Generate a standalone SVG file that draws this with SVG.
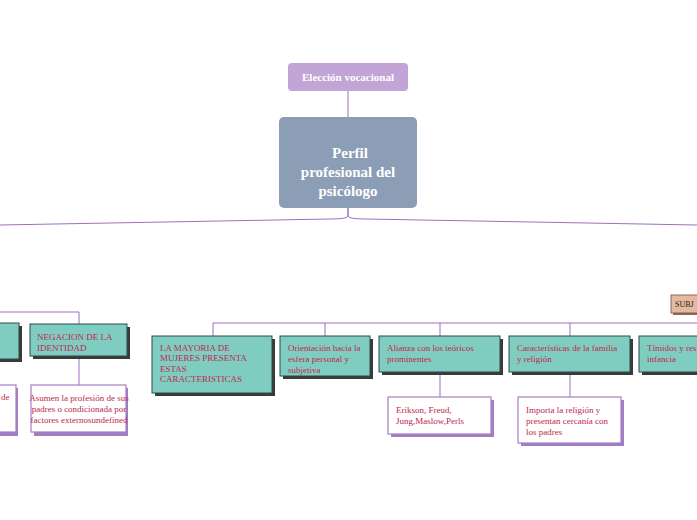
<svg xmlns="http://www.w3.org/2000/svg" width="697" height="520" viewBox="0 0 697 520">
<style>
.t{fill:#7fcdc0;stroke:#2f4a46;stroke-width:1}
.sh{fill:#3a3a3a}
.w{fill:#fff;stroke:#a47fc4;stroke-width:1.2}
.ws{fill:#a27ec0}
.lbl{font-family:"Liberation Serif",serif;font-size:9px;fill:#c0264d}
.c{fill:none;stroke:#9c6fbf;stroke-width:1}
</style>
<rect width="697" height="520" fill="#fff"/>
<g id="connectors">
<path class="c" d="M348 91 V117"/>
<path class="c" d="M348 208 V216 Q348 219 330 219 L0 225"/>
<path class="c" d="M348 208 V216 Q348 219 366 219 L697 225"/>
<path class="c" d="M0 312 H79 V324"/>
<path class="c" d="M213 336 V323 H697"/>
<path class="c" d="M325 323 V336 M440 323 V336 M570 323 V336"/>
<path class="c" d="M79 356 V385 M440 372 V397 M570 372 V397"/>
</g>
<g id="eleccion"><rect x="288" y="63" width="120" height="28" rx="4" fill="#c2a5d6"/><text x="348" y="81" text-anchor="middle" font-family="Liberation Serif,serif" font-size="11" font-weight="bold" fill="#fff">Elección vocacional</text></g>
<g id="perfil"><rect x="279" y="117" width="138" height="91" rx="5" fill="#8c9db6"/><text text-anchor="middle" font-family="Liberation Serif,serif" font-size="15" font-weight="bold" fill="#fff"><tspan x="350" y="158">Perfil</tspan><tspan x="348" y="177">profesional del</tspan><tspan x="348" y="196">psicólogo</tspan></text></g>
<g id="left"><rect class="sh" x="-5" y="326" width="27" height="36"/><rect class="t" x="-5" y="323" width="24" height="36"/></g>
<g id="leftw"><rect class="ws" x="-5" y="388" width="23" height="48"/><rect class="w" x="-5" y="385" width="21" height="47"/><text x="1" y="400" class="lbl" font-size="7">de</text></g>
<g id="negacion"><rect class="sh" x="33" y="327" width="97" height="32"/><rect class="t" x="30" y="324" width="97" height="32"/><text class="lbl"><tspan x="37" y="340">NEGACION DE LA</tspan><tspan x="37" y="351">IDENTIDAD</tspan></text></g>
<g id="asumen"><rect class="ws" x="34" y="388" width="94" height="48"/><rect class="w" x="31" y="385" width="95" height="47"/><text class="lbl" font-size="7" text-anchor="middle"><tspan x="79" y="401">Asumen la profesión de sus</tspan><tspan x="79" y="412">padres o condicionada por</tspan><tspan x="79" y="423">factores externosundefined</tspan></text></g>
<g id="mayoria"><rect class="sh" x="155" y="339" width="120" height="57"/><rect class="t" x="152" y="336" width="120" height="57"/><text class="lbl"><tspan x="160" y="351">LA MAYORIA DE</tspan><tspan x="160" y="361">MUJERES PRESENTA</tspan><tspan x="160" y="372">ESTAS</tspan><tspan x="160" y="382">CARACTERISTICAS</tspan></text></g>
<g id="orientacion"><rect class="sh" x="283" y="339" width="90" height="40"/><rect class="t" x="280" y="336" width="90" height="40"/><text class="lbl"><tspan x="288" y="351">Orientación hacia la</tspan><tspan x="288" y="362">esfera personal y</tspan><tspan x="288" y="373">subjetiva</tspan></text></g>
<g id="alianza"><rect class="sh" x="382" y="339" width="121" height="36"/><rect class="t" x="379" y="336" width="121" height="36"/><text class="lbl"><tspan x="387" y="351">Alianza con los teóricos</tspan><tspan x="387" y="362">prominentes</tspan></text></g>
<g id="caracteristicas"><rect class="sh" x="512" y="339" width="121" height="36"/><rect class="t" x="509" y="336" width="121" height="36"/><text class="lbl"><tspan x="517" y="351">Características de la familia</tspan><tspan x="517" y="362">y religión</tspan></text></g>
<g id="timidos"><rect class="sh" x="642" y="339" width="60" height="36"/><rect class="t" x="639" y="336" width="62" height="36"/><text class="lbl"><tspan x="647" y="351">Tímidos y res</tspan><tspan x="647" y="362">infancia</tspan></text></g>
<g id="erikson"><rect class="ws" x="391" y="400" width="103" height="37"/><rect class="w" x="388" y="397" width="103" height="37"/><text class="lbl"><tspan x="396" y="413">Erikson, Freud,</tspan><tspan x="396" y="424">Jung,Maslow,Perls</tspan></text></g>
<g id="importa"><rect class="ws" x="521" y="400" width="103" height="46"/><rect class="w" x="518" y="397" width="103" height="46"/><text class="lbl"><tspan x="526" y="413">Importa la religión y</tspan><tspan x="526" y="424">presentan cercanía con</tspan><tspan x="526" y="435">los padres</tspan></text></g>
<g id="subj"><rect x="673" y="297" width="30" height="18" fill="#8a6e5e"/><rect x="671" y="295" width="30" height="18" fill="#e3baa0" stroke="#6e5040" stroke-width="0.8"/><text x="675" y="307" font-family="Liberation Serif,serif" font-size="8" fill="#222">SUBJ</text></g>
</svg>
